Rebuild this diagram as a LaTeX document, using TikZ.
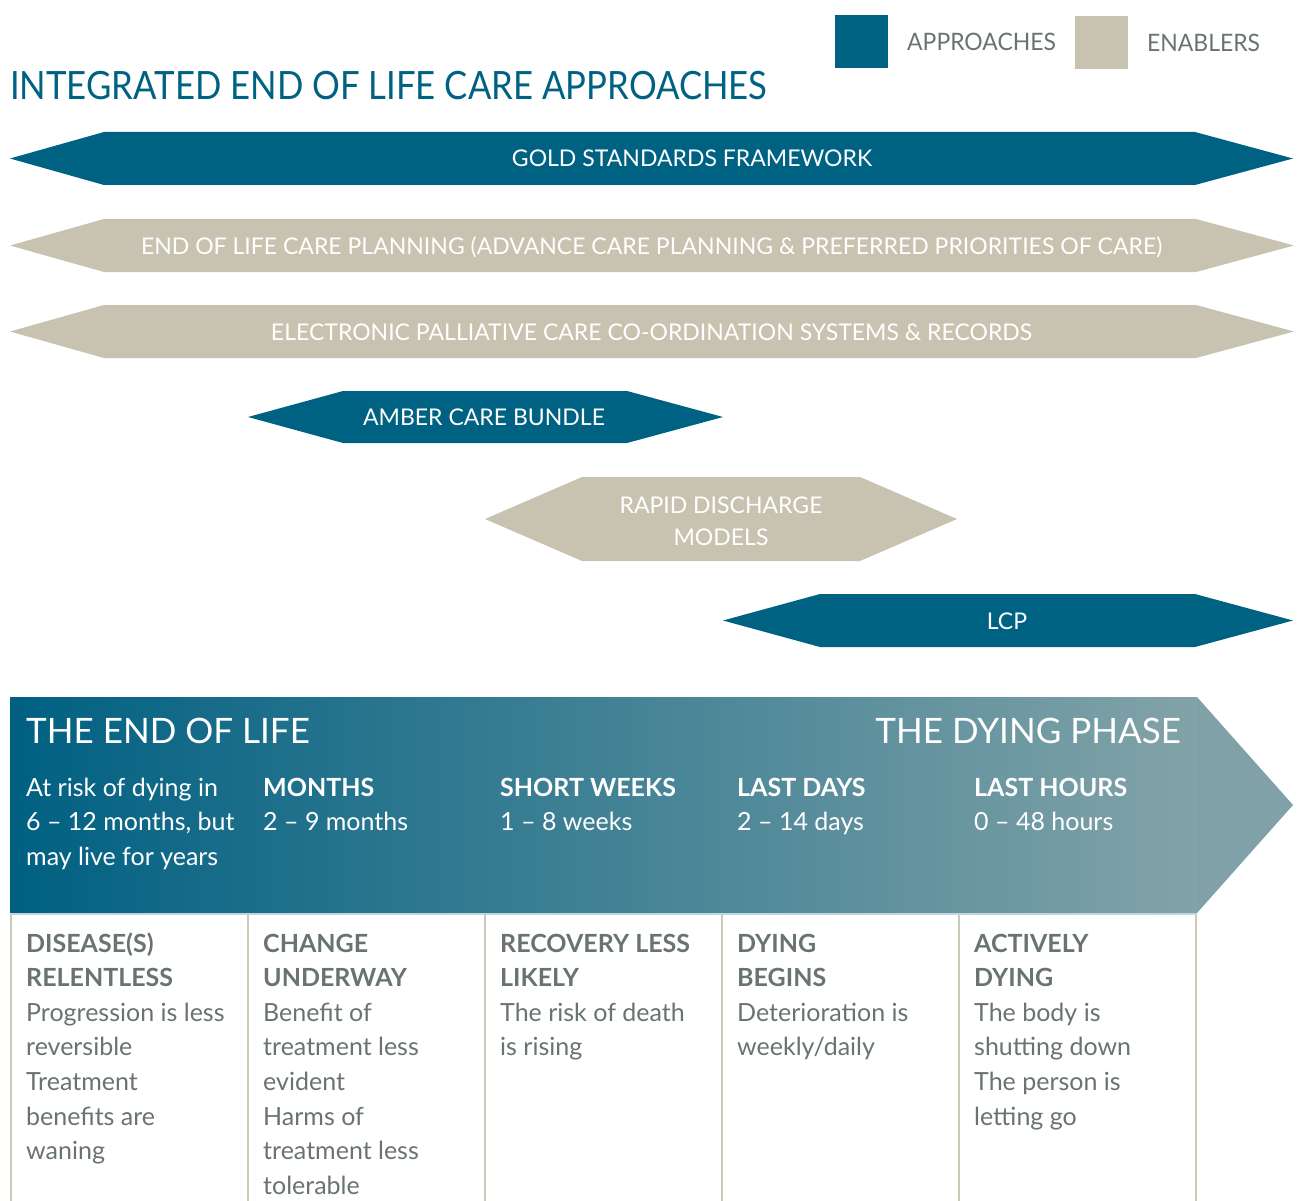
\documentclass[tikz,border=0pt]{standalone}
\usepackage{fontspec}
\setmainfont{Lato}
\newfontfamily\titlefont[FakeStretch=0.89]{Lato}
\newfontfamily\legfont[FakeStretch=0.955]{Lato}
\definecolor{appr}{RGB}{0,98,131}
\definecolor{enab}{RGB}{200,195,176}
\definecolor{greytxt}{RGB}{105,115,112}
\definecolor{gradL}{RGB}{0,96,130}
\definecolor{gradM}{RGB}{22,124,147}
\definecolor{gradR}{RGB}{130,163,168}
\definecolor{tri}{RGB}{127,161,167}
\definecolor{colline}{RGB}{205,200,186}
\definecolor{bandline}{RGB}{190,214,224}
\begin{document}
\begin{tikzpicture}[x=1pt,y=-1pt,
  arrtext/.style={text=white,font=\fontsize{23}{32}\selectfont,inner sep=0pt,anchor=base,align=center},
  legtext/.style={text=greytxt,font=\legfont\fontsize{24}{28}\selectfont,inner sep=0pt,anchor=base west},
  titletext/.style={text=appr,font=\titlefont\fontsize{39}{44}\selectfont,inner sep=0pt,anchor=base west},
  bandhead/.style={text=white,font=\fontsize{35}{40}\selectfont,inner sep=0pt},
  bandtxt/.style={text=white,font=\fontsize{25}{34.5}\selectfont,inner sep=0pt,anchor=base west,align=left},
  bottxt/.style={text=greytxt,font=\fontsize{25}{34.6}\selectfont,inner sep=0pt,anchor=base west,align=left},
  colsep/.style={draw=colline,line width=1.5pt}
]
\useasboundingbox (0,0) rectangle (1298,1201);

% legend
\fill[appr] (835,15) rectangle (888,68);
\node[legtext] (lapp) at (907,51) {APPROACHES};
\fill[enab] (1075,16) rectangle (1128,69);
\node[legtext] (lenab) at (1147,52) {ENABLERS};

% title
\node[titletext] (title) at (10,100) {INTEGRATED END OF LIFE CARE APPROACHES};

% arrows
\fill[appr] (10,158.5) -- (104,132) -- (1195,132) -- (1293,158.5) -- (1195,185) -- (104,185) -- cycle;
\node[arrtext] (gsf) at (692,167) {GOLD STANDARDS FRAMEWORK};

\fill[enab] (10,245.5) -- (104,219) -- (1196,219) -- (1294,245.5) -- (1196,272) -- (104,272) -- cycle;
\node[arrtext] (eolcp) at (651.5,254) {END OF LIFE CARE PLANNING (ADVANCE CARE PLANNING \& PREFERRED PRIORITIES OF CARE)};

\fill[enab] (10,331.5) -- (104,305) -- (1196,305) -- (1294,331.5) -- (1196,358) -- (104,358) -- cycle;
\node[arrtext] (epacs) at (651.5,340) {ELECTRONIC PALLIATIVE CARE CO-ORDINATION SYSTEMS \& RECORDS};

\fill[appr] (248,417) -- (343,391) -- (627,391) -- (723,417) -- (627,443) -- (343,443) -- cycle;
\node[arrtext] (amber) at (484,425.5) {AMBER CARE BUNDLE};

\fill[enab] (485,519) -- (582,477) -- (860,477) -- (957,519) -- (860,561) -- (582,561) -- cycle;
\node[arrtext] (rapid) at (721,545) {RAPID DISCHARGE\\MODELS};

\fill[appr] (723,620.5) -- (820,594) -- (1195,594) -- (1293,620.5) -- (1195,647) -- (820,647) -- cycle;
\node[arrtext] (lcp) at (1007,629) {LCP};

% band
\fill[left color=gradL,middle color=gradM,right color=gradR] (10,697) rectangle (1197,913);
\fill[tri] (1197,697) -- (1293,805) -- (1197,913) -- cycle;
\draw[bandline,line width=1.2pt] (10,914) -- (1197,914);

\node[bandhead,anchor=base west] (eol) at (26,743) {THE END OF LIFE};
\node[bandhead,anchor=base east] (dying) at (1181,743) {THE DYING PHASE};

% (base anchor of a multi-line node = baseline of its last line)
\node[bandtxt] (b1) at (26,865) {At risk of dying in\\6 -- 12 months, but\\may live for years};
\node[bandtxt] (b2) at (263,830.5) {\textbf{MONTHS}\\2 -- 9 months};
\node[bandtxt] (b3) at (500,830.5) {\textbf{SHORT WEEKS}\\1 -- 8 weeks};
\node[bandtxt] (b4) at (737,830.5) {\textbf{LAST DAYS}\\2 -- 14 days};
\node[bandtxt] (b5) at (974,830.5) {\textbf{LAST HOURS}\\0 -- 48 hours};

% columns
\foreach \x in {11,248,485,722,959,1196} {
  \draw[colsep] (\x,915) -- (\x,1201);
}

\node[bottxt] (c1) at (26,1159.6) {\textbf{DISEASE(S)}\\\textbf{RELENTLESS}\\Progression is less\\reversible\\Treatment\\benefits are\\waning};
\node[bottxt] (c2) at (263,1194.2) {\textbf{CHANGE}\\\textbf{UNDERWAY}\\Benefit of\\treatment less\\evident\\Harms of\\treatment less\\tolerable};
\node[bottxt] (c3) at (500,1055.8) {\textbf{RECOVERY LESS}\\\textbf{LIKELY}\\The risk of death\\is rising};
\node[bottxt] (c4) at (737,1055.8) {\textbf{DYING}\\\textbf{BEGINS}\\Deterioration is\\weekly/daily};
\node[bottxt] (c5) at (974,1125) {\textbf{ACTIVELY}\\\textbf{DYING}\\The body is\\shutting down\\The person is\\letting go};
\end{tikzpicture}
\end{document}
